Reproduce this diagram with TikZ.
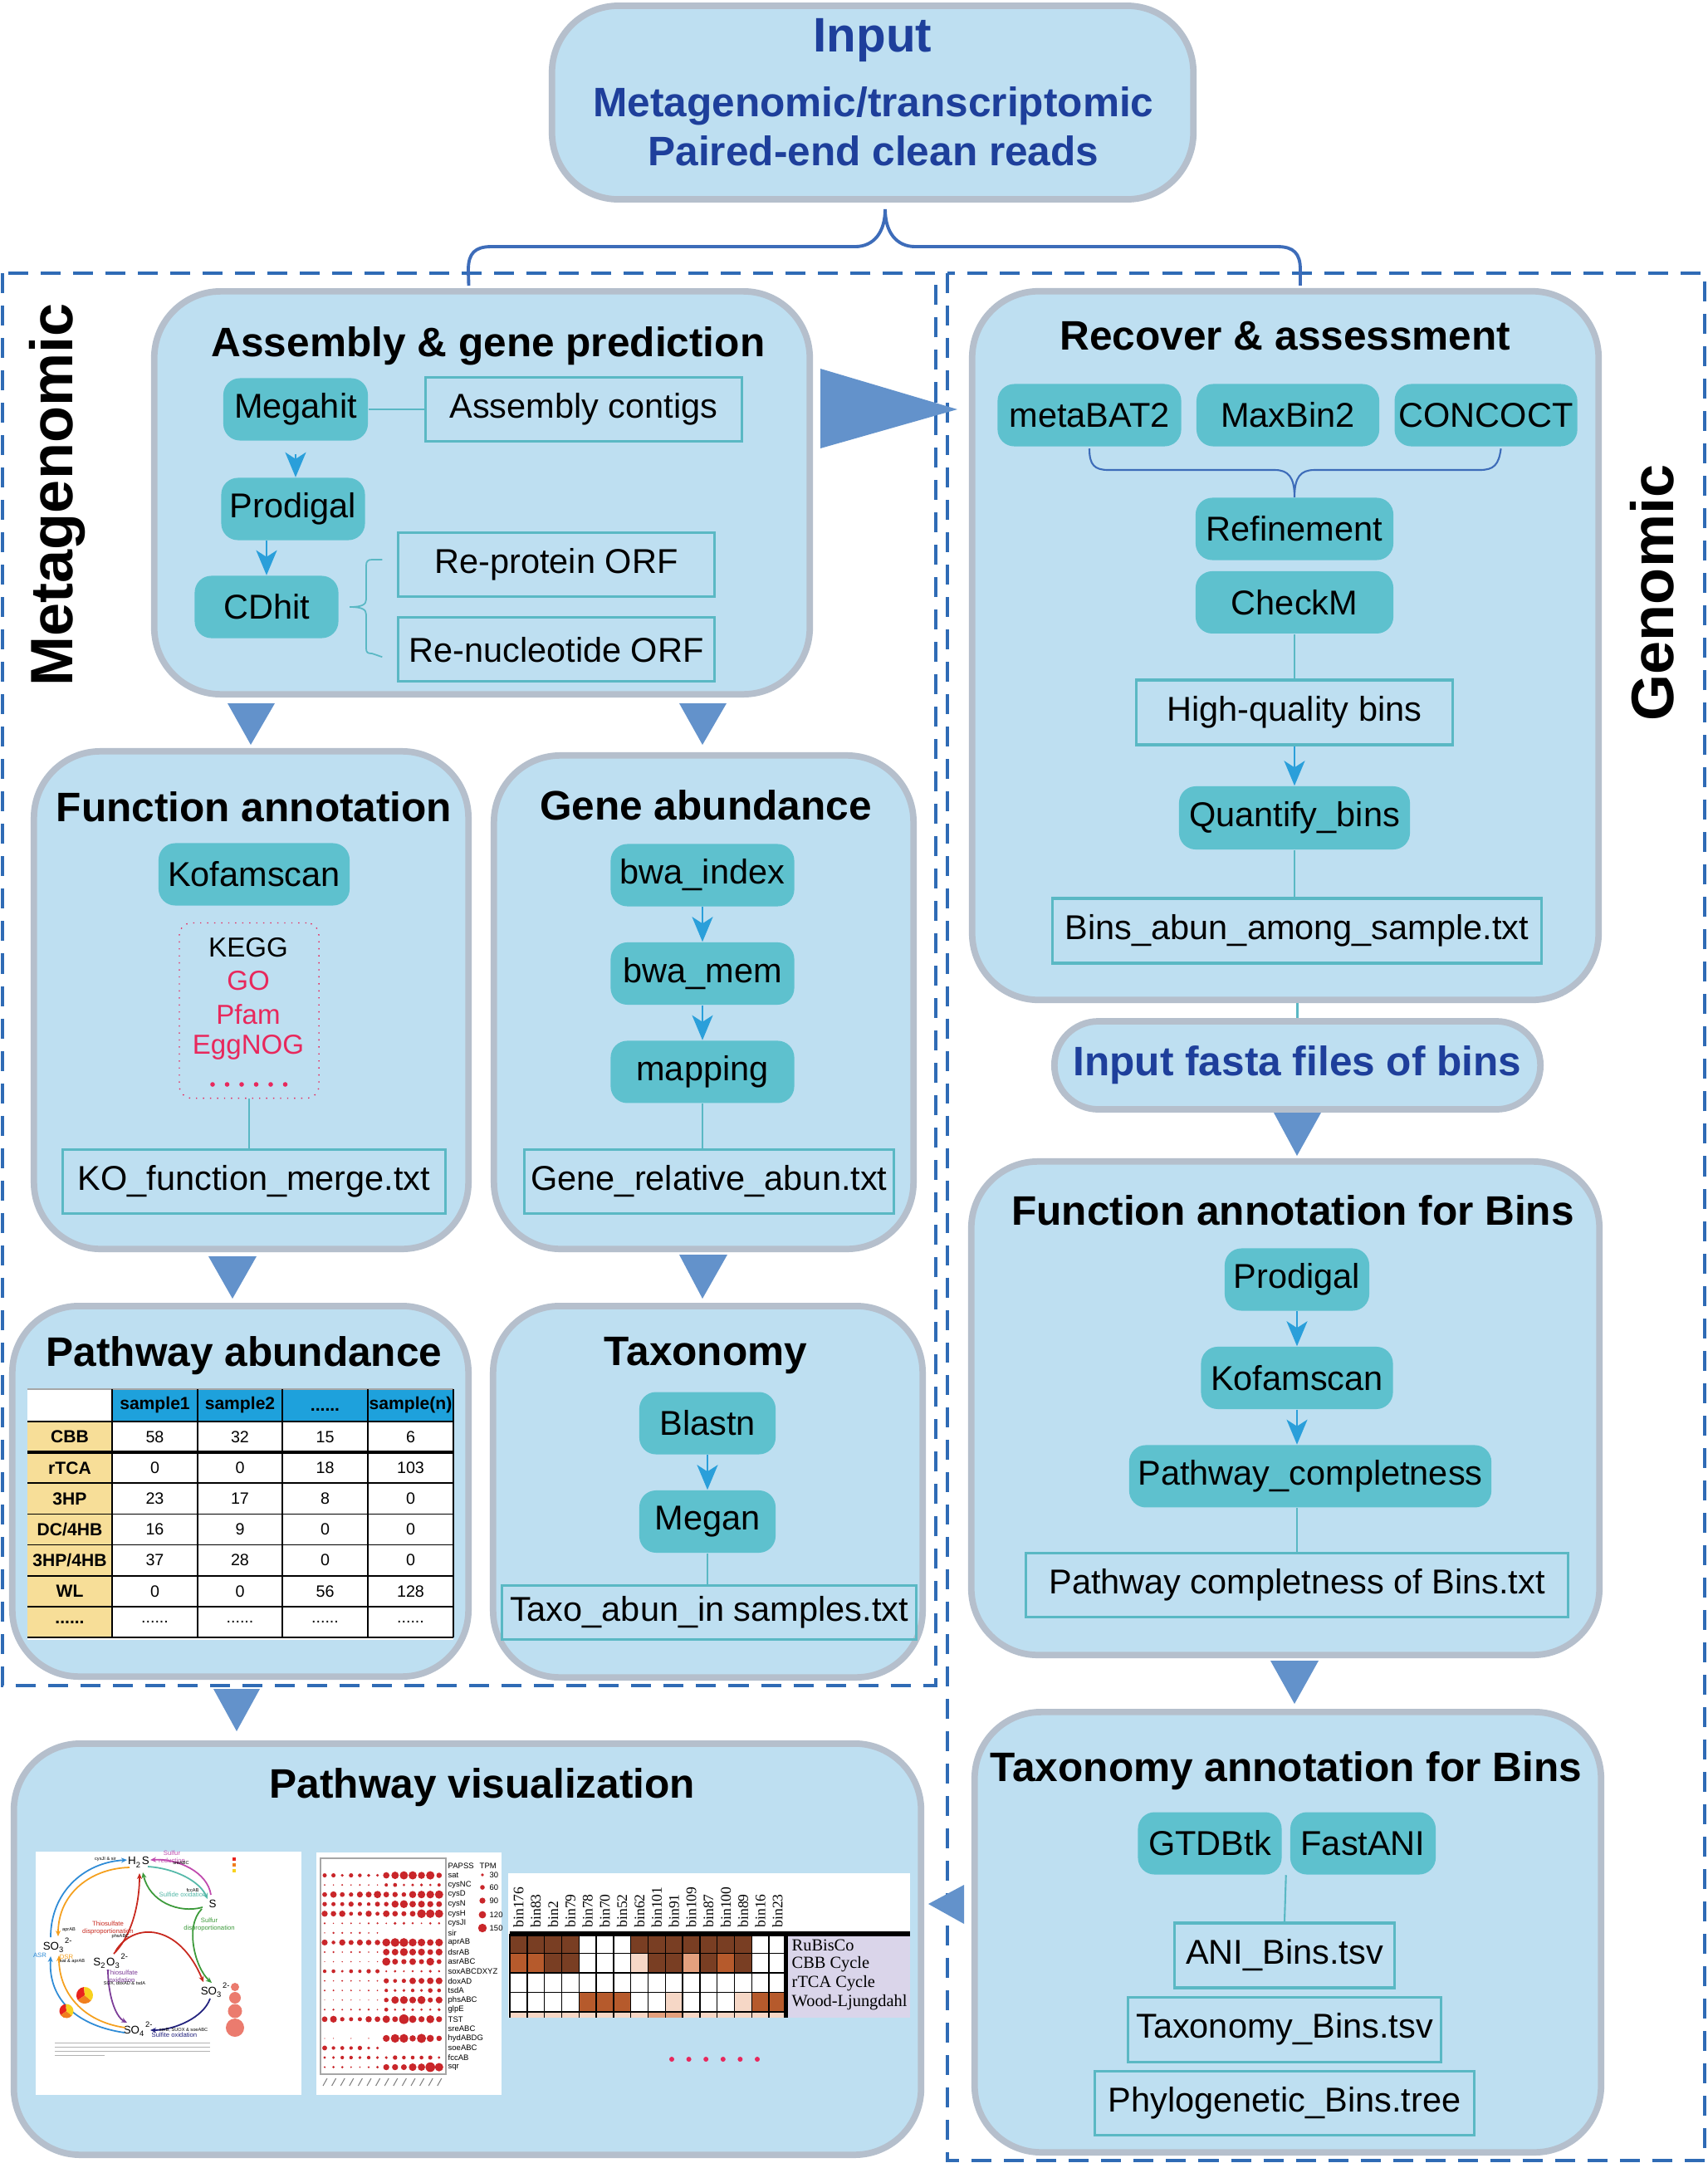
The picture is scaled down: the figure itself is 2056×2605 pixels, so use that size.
\documentclass[tikz,border=0pt]{standalone}
\usepackage{fontspec}
\setmainfont{Liberation Sans}
\newfontfamily\heatserif{Liberation Serif}
\usetikzlibrary{calc}
\usetikzlibrary{positioning}
\usetikzlibrary{arrows.meta}

\definecolor{panelfill}{HTML}{BEDFF1}
\definecolor{panelline}{HTML}{B5BFCC}
\definecolor{toolfill}{HTML}{5EC1CE}
\definecolor{fileline}{HTML}{5AB8C4}
\definecolor{flowblue}{HTML}{2A9FDA}
\definecolor{tricol}{HTML}{6392CB}
\definecolor{dashblue}{HTML}{2F6BB5}
\definecolor{braceblue}{HTML}{3D6CB9}
\definecolor{inkblue}{HTML}{1E3F9B}
\definecolor{dbred}{HTML}{E8285C}
\definecolor{headblue}{HTML}{1EA1DC}
\definecolor{rowgold}{HTML}{F7DE98}
\definecolor{dotred}{HTML}{C9262A}
\definecolor{legsalmon}{HTML}{EB7B6E}
\definecolor{hmlabel}{HTML}{DAD5EA}
\definecolor{hm0}{HTML}{FFFFFF}
\definecolor{hm1}{HTML}{F6D7C6}
\definecolor{hm2}{HTML}{E3A07E}
\definecolor{hm3}{HTML}{B65A2C}
\definecolor{hm4}{HTML}{793E23}
\definecolor{cycblue}{HTML}{2E8BD6}
\definecolor{cycorange}{HTML}{F5A01E}
\definecolor{cycteal}{HTML}{55B9A9}
\definecolor{cycpink}{HTML}{C04AAE}
\definecolor{cycgreen}{HTML}{3C9A3A}
\definecolor{cycred}{HTML}{C8281E}
\definecolor{cycpurple}{HTML}{7C3C98}
\definecolor{cycnavy}{HTML}{23237E}
\definecolor{piered}{HTML}{E8231E}
\definecolor{pieorange}{HTML}{F07F1E}
\definecolor{pieyellow}{HTML}{F8D21E}

\newcommand\tabdots{......}

\tikzset{every node/.style={align=center},
  panel/.style={draw=panelline, line width=2.2pt, fill=panelfill,
    rounded corners=0.8cm, inner sep=0pt},
  panel title/.style={font=\bfseries\fontsize{14.1}{17}\selectfont},
  side label/.style={font=\bfseries\fontsize{20.5}{24}\selectfont, rotate=90},
  tool/.style={fill=toolfill, rounded corners=0.2cm, inner sep=0pt,
    minimum height=0.75cm, font=\fontsize{11.8}{14}\selectfont},
  outfile/.style={draw=fileline, line width=0.9pt, inner sep=0pt,
    minimum height=0.77cm, font=\fontsize{11.8}{14}\selectfont},
  flow/.style={draw=flowblue, line width=0.7pt,
    -{Stealth[length=0.3cm, width=0.25cm, inset=0.08cm]}},
  linkline/.style={draw=fileline, line width=0.6pt},
  bigtri/.style={fill=tricol},
  regionbox/.style={draw=dashblue, line width=1.2pt, dash pattern=on 0.24cm off 0.15cm},
  dbtext/.style={font=\fontsize{9.4}{11}\selectfont, text=dbred},
  cellhead/.style={font=\bfseries\fontsize{6}{7}\selectfont},
  cellnum/.style={font=\fontsize{5.6}{7}\selectfont},
  chem/.style={font=\fontsize{3.8}{4}\selectfont, inner sep=0.5pt},
  proc/.style={font=\fontsize{2.2}{2.6}\selectfont, inner sep=0pt},
  gene note/.style={font=\fontsize{1.6}{2}\selectfont, inner sep=0pt},
  cyc/.style={line width=0.5pt, -{Stealth[length=0.07cm, width=0.06cm]}},
  genelab/.style={font=\fontsize{2.7}{3}\selectfont, anchor=west, inner sep=0pt},
  binlab/.style={font=\heatserif\fontsize{5}{6}\selectfont, rotate=90, anchor=west, inner sep=0pt},
  pathlab/.style={font=\heatserif\fontsize{5.8}{7}\selectfont, anchor=west, inner sep=0pt}}

\begin{document}
\begin{tikzpicture}[x=0.01cm, y=-0.01cm]
  \fill[white] (0,0) rectangle (2056,2605);
  \useasboundingbox (0,0) rectangle (2056,2605);

  % dashed regions
  \draw[regionbox] (3,329) rectangle (1127,2030);
  \draw[regionbox] (1141,329) rectangle (2053,2602);
  \node [side label] (metalabel) at (69,596) {Metagenomic};
  \node [side label] (genolabel) at (1990,714) {Genomic};

  % input
  \node [panel, minimum width=7.72cm, minimum height=2.33cm] (input) at (1051,123.5) {};
  \node [font=\bfseries\fontsize{16.6}{20}\selectfont, text=inkblue] (inputtitle) at (1051,48) {Input};
  \node [font=\bfseries\fontsize{14.1}{16.8}\selectfont, text=inkblue] (inputtext) at (1052,152) {Metagenomic/transcriptomic\\Paired-end clean reads};

  % panels
  \node [panel, minimum width=7.89cm, minimum height=4.85cm] (assembly) at (580.5,593.5) {};
  \node [panel, minimum width=7.54cm, minimum height=8.53cm] (recover) at (1548,777.5) {};
  \node [panel, minimum width=5.23cm, minimum height=5.99cm] (funcann) at (302.5,1204.5) {};
  \node [panel, minimum width=5.05cm, minimum height=5.94cm] (geneab) at (847.5,1207) {};
  \node [panel, minimum width=5.49cm, minimum height=4.46cm] (pathab) at (289.5,1796) {};
  \node [panel, minimum width=5.17cm, minimum height=4.47cm] (taxo) at (852.5,1796.5) {};
  \node [panel, minimum width=7.56cm, minimum height=5.94cm] (funcbins) at (1548,1696) {};
  \node [panel, minimum width=7.54cm, minimum height=5.30cm] (taxbins) at (1551,2327) {};
  \node [panel, minimum width=10.92cm, minimum height=4.95cm] (pathvis) at (563,2347.5) {};
  \node [panel, rounded corners=0.53cm, minimum width=5.85cm, minimum height=1.06cm,
    font=\bfseries\fontsize{14.1}{17}\selectfont, text=inkblue] (fasta) at (1562.5,1283) {Input fasta files of bins};

  % brace from input
  \draw[braceblue, line width=1.1pt] ($(assembly.north)+(-16,-3)$) -- (564,325)
    .. controls (564,305) and (572,297) .. (592,297) -- (1030,297)
    .. controls (1052,297) and (1066,280) .. (1066,252)
    .. controls (1066,280) and (1080,297) .. (1102,297) -- (1538,297)
    .. controls (1558,297) and (1566,305) .. (1566,325) -- ($(recover.north)+(18,-3)$);

  % big arrows between panels
  \fill[bigtri] (988,444) -- (1153,493) -- (988,540) -- cycle;
  \fill[bigtri] (274,847) -- (331,847) -- (302,897) -- cycle;
  \fill[bigtri] (818,847) -- (875,847) -- (846,897) -- cycle;
  \fill[bigtri] (251,1513) -- (309,1513) -- (280,1564) -- cycle;
  \fill[bigtri] (818,1511) -- (876,1511) -- (846,1564) -- cycle;
  \fill[bigtri] (257,2034) -- (313,2034) -- (285,2085) -- cycle;
  \fill[bigtri] (1534,1340) -- (1591,1340) -- (1562,1392) -- cycle;
  \fill[bigtri] (1530,2000) -- (1588,2000) -- (1559,2052) -- cycle;
  \fill[bigtri] (1161,2270) -- (1161,2317) -- (1118,2293) -- cycle;

  % assembly & gene prediction
  \node [panel title] (assemblytitle) at (588,417) {Assembly \& gene prediction};
  \node [tool, minimum width=1.74cm] (megahit) at (356,493) {Megahit};
  \node [outfile, minimum width=3.8cm] (contigs) at (703,493) {Assembly contigs};
  \node [tool, minimum width=1.73cm] (prodigal) at (353,613) {Prodigal};
  \node [tool, minimum width=1.73cm] (cdhit) at (321,731) {CDhit};
  \node [outfile, minimum width=3.8cm] (reprotein) at (670,680) {Re-protein ORF};
  \node [outfile, minimum width=3.8cm, below=0.22cm of reprotein] (renucleotide) {Re-nucleotide ORF};
  \draw[linkline] (megahit) -- (contigs);
  \draw[flow, shorten <=0.16cm] (megahit.south) -- (megahit.south |- prodigal.north);
  \draw[flow] (cdhit.north |- prodigal.south) -- (cdhit.north);
  \coordinate (cdtip) at ($(cdhit.east)+(13,0)$);
  \draw[linkline, line width=0.5pt] ($(reprotein.west)+(-18,-6)$) -- (448,674)
    .. controls (443,674) and (441,676) .. (441,681) -- (441,722)
    .. controls (441,728) and (436,731) .. (cdtip)
    .. controls (436,731) and (441,734) .. (441,740) -- (441,781)
    .. controls (441,786) and (443,787) .. (448,787) -- ($(renucleotide.west)+(-18,9)$);

  % recover & assessment
  \node [panel title] (recovertitle) at (1548,405) {Recover \& assessment};
  \node [tool, minimum width=2.21cm] (metabat) at (1312,500) {metaBAT2};
  \node [tool, minimum width=2.2cm, right=0.17cm of metabat] (maxbin) {MaxBin2};
  \node [tool, minimum width=2.2cm, right=0.17cm of maxbin] (concoct) {CONCOCT};
  \node [tool, minimum width=2.38cm] (refinement) at (1559,637) {Refinement};
  \node [tool, minimum width=2.38cm, below=0.12cm of refinement] (checkm) {CheckM};
  \node [outfile, minimum width=3.81cm, minimum height=0.78cm] (hqbins) at (1559,858) {High-quality bins};
  \node [tool, minimum width=2.78cm, minimum height=0.76cm] (quantify) at (1559,985) {Quantify\_bins};
  \node [outfile, minimum width=5.89cm, minimum height=0.78cm] (binsabun) at (1562,1121) {Bins\_abun\_among\_sample.txt};
  \draw[braceblue, line width=0.6pt] ($(metabat.south)+(0,2)$)
    .. controls (1312,560) and (1318,566) .. (1335,566) -- (1535,566)
    .. controls (1552,566) and (1559,575) .. (refinement.north)
    .. controls (1559,575) and (1566,566) .. (1583,566) -- (1782,566)
    .. controls (1799,566) and (1805,560) .. ($(concoct.south)+(18,2)$);
  \draw[linkline] (checkm) -- (hqbins);
  \draw[flow] (hqbins) -- (quantify);
  \draw[linkline] (quantify.south) -- (quantify.south |- binsabun.north);
  \draw[linkline] (fasta.north |- recover.south) -- (fasta.north);

  % function annotation
  \node [panel title] (functitle) at (306,972) {Function annotation};
  \node [tool, minimum width=2.3cm] (kofam) at (306,1053) {Kofamscan};
  \node [draw=dbred, dotted, line width=0.4pt, rounded corners=0.15cm,
    minimum width=1.68cm, minimum height=2.11cm] (dbbox) at (300,1217) {};
  \node [dbtext, text=black] (kegg) at (299,1141) {KEGG};
  \node [dbtext] (go) at (299,1181) {GO};
  \node [dbtext] (pfam) at (299,1222) {Pfam};
  \node [dbtext] (eggnog) at (299,1261) {EggNOG};
  \foreach \k in {0,...,5}
    \fill[dbred] (256+\k*17.5,1306) circle[radius=0.028cm];
  \node [outfile, minimum width=4.6cm] (komerge) at (306,1423) {KO\_function\_merge.txt};
  \draw[linkline] (dbbox.south) -- (dbbox.south |- komerge.north);

  % gene abundance
  \node [panel title] (genetitle) at (850,970) {Gene abundance};
  \node [tool, minimum width=2.21cm] (bwaindex) at (846,1054) {bwa\_index};
  \node [tool, minimum width=2.21cm, below=0.42cm of bwaindex] (bwamem) {bwa\_mem};
  \node [tool, minimum width=2.21cm, below=0.42cm of bwamem] (mapping) {mapping};
  \node [outfile, minimum width=4.44cm] (generel) at (854,1423) {Gene\_relative\_abun.txt};
  \draw[flow] (bwaindex) -- (bwamem);
  \draw[flow] (bwamem) -- (mapping);
  \draw[linkline] (mapping.south) -- (mapping.south |- generel.north);

  % taxonomy
  \node [panel title] (taxotitle) at (850,1633) {Taxonomy};
  \node [tool, minimum width=1.64cm] (blastn) at (852,1714) {Blastn};
  \node [tool, minimum width=1.64cm, below=0.42cm of blastn] (megan) {Megan};
  \node [outfile, minimum width=4.98cm, minimum height=0.65cm] (taxoabun) at (854,1942) {Taxo\_abun\_in samples.txt};
  \draw[flow] (blastn) -- (megan);
  \draw[linkline] (megan.south) -- (megan.south |- taxoabun.north);

  % pathway abundance table
  \node [panel title] (pathabtitle) at (294,1633) {Pathway abundance};
  \fill[white] (33,1673) rectangle (546,1975);
  \fill[headblue] (135,1673) rectangle (546,1712);
  \fill[rowgold] (33,1712) rectangle (135,1972);
  \draw[gray!70, line width=0.5pt] (33,1673) -- (546,1673);
  \foreach \k in {0,...,7}
    \draw[black, line width=0.5pt] (33,1712+\k*37.14) -- (546,1712+\k*37.14);
  \draw[black, line width=1pt] (33,1749.1) -- (546,1749.1);
  \foreach \cx in {135,238,340,443,546}
    \draw[black, line width=0.5pt] (\cx,1673) -- (\cx,1972);
  \foreach \hd/\hx [count=\h] in {sample1/186.5, sample2/289, sample(n)/494.5}
    \node [cellhead] (head\h) at (\hx,1692) {\hd};
  \node [cellhead] (headdots) at (391.5,1698) {\tabdots};
  \foreach \lab/\va/\vb/\vc/\vd [count=\i from 0] in {CBB/58/32/15/6, rTCA/0/0/18/103,
      3HP/23/17/8/0, {DC/4HB}/16/9/0/0, {3HP/4HB}/37/28/0/0, WL/0/0/56/128,
      \tabdots/\tabdots/\tabdots/\tabdots/\tabdots} {
    \pgfmathsetmacro\yy{1730.6+\i*37.14}
    \node [cellhead] (rowlab\i) at (84,\yy) {\lab};
    \node [cellnum] (va\i) at (186.5,\yy) {\va};
    \node [cellnum] (vb\i) at (289,\yy) {\vb};
    \node [cellnum] (vc\i) at (391.5,\yy) {\vc};
    \node [cellnum] (vd\i) at (494.5,\yy) {\vd};
  }

  % function annotation for bins
  \node [panel title] (funcbinstitle) at (1557,1458) {Function annotation for Bins};
  \node [tool, minimum width=1.74cm] (prodigalbins) at (1562,1541) {Prodigal};
  \node [tool, minimum width=2.31cm, below=0.42cm of prodigalbins] (kofambins) {Kofamscan};
  \node [tool, minimum width=4.36cm, below=0.42cm of kofambins, xshift=0.16cm] (pathcomp) {Pathway\_completness};
  \node [outfile, minimum width=6.53cm] (pathcompfile) at (1562,1909) {Pathway completness of Bins.txt};
  \draw[flow] (prodigalbins) -- (kofambins);
  \draw[flow] (kofambins.south) -- (kofambins.south |- pathcomp.north);
  \draw[linkline] (pathcompfile.north |- pathcomp.south) -- (pathcompfile.north);

  % taxonomy annotation for bins
  \node [panel title] (taxbinstitle) at (1549,2133) {Taxonomy annotation for Bins};
  \node [tool, minimum width=1.73cm] (gtdbtk) at (1457,2220) {GTDBtk};
  \node [tool, minimum width=1.75cm, right=0.09cm of gtdbtk] (fastani) {FastANI};
  \node [outfile, minimum width=2.65cm, minimum height=0.78cm] (anibins) at (1547,2355) {ANI\_Bins.tsv};
  \node [outfile, minimum width=3.77cm, minimum height=0.78cm, below=0.08cm of anibins] (taxbinstsv) {Taxonomy\_Bins.tsv};
  \node [outfile, minimum width=4.57cm, minimum height=0.77cm, below=0.08cm of taxbinstsv] (phylobins) {Phylogenetic\_Bins.tree};
  \draw[linkline] ($(gtdbtk.south east)!0.5!(fastani.south west)$) -- (anibins.north);

  % pathway visualization
  \node [panel title] (pathvistitle) at (581,2153) {Pathway visualization};

  % sulfur cycle figure
  \fill[white] (43,2230) rectangle (363,2523);
  \node [chem] (hs) at (167,2243) {H\textsubscript{2}S};
  \node [chem] (sz) at (256,2293) {S};
  \node [chem] (sol) at (70,2343) {SO\textsubscript{3}\textsuperscript{2-}};
  \node [chem] (sto) at (134,2362) {S\textsubscript{2}O\textsubscript{3}\textsuperscript{2-}};
  \node [chem] (sor) at (260,2397) {SO\textsubscript{3}\textsuperscript{2-}};
  \node [chem] (sof) at (167,2444) {SO\textsubscript{4}\textsuperscript{2-}};
  \draw[cyc, cycblue] (150,2448) .. controls (95,2440) and (58,2410) .. (61,2356);
  \draw[cyc, cycblue] (61,2333) .. controls (61,2280) and (100,2243) .. (153,2240);
  \draw[cyc, cycorange] (156,2249) .. controls (110,2250) and (70,2280) .. (70,2332);
  \draw[cyc, cycorange, {Stealth[length=0.07cm, width=0.06cm]}-] (71,2355) .. controls (71,2400) and (100,2435) .. (151,2442);
  \draw[cyc, cycteal] (178,2248) .. controls (210,2250) and (240,2265) .. (250,2287);
  \draw[cyc, cycpink] (254,2282) .. controls (250,2255) and (215,2238) .. (181,2240);
  \draw[cyc, cycgreen] (244,2297) .. controls (215,2305) and (180,2290) .. (172,2255);
  \draw[cyc, cycgreen] (243,2299) .. controls (222,2320) and (235,2370) .. (255,2388);
  \draw[cyc, cycred] (137,2353) .. controls (160,2330) and (168,2290) .. (168,2256);
  \draw[cyc, cycred] (139,2350) .. controls (160,2315) and (215,2315) .. (245,2387);
  \draw[cyc, cycpurple] (130,2372) .. controls (130,2400) and (138,2428) .. (153,2436);
  \draw[cyc, cycnavy] (253,2407) .. controls (245,2430) and (210,2445) .. (181,2445);
  \node [proc, text=cycpink] (plab1) at (207,2236) {Sulfur\\reduction};
  \node [proc, text=cycteal] (plab2) at (220,2282) {Sulfide oxidation};
  \node [proc, text=cycred] (plab3) at (130,2322) {Thiosulfate\\disproportionation};
  \node [proc, text=cycgreen] (plab4) at (252,2318) {Sulfur\\disproportionation};
  \node [proc, text=cycpurple] (plab5) at (147,2380) {Thiosulfate\\oxidation};
  \node [proc, text=cycnavy] (plab6) at (210,2451) {Sulfite oxidation};
  \node [proc, text=cycblue] (plab7) at (48,2355) {ASR};
  \node [proc, text=cycorange] (plab8) at (80,2357) {DSR};
  \node [gene note] (gn1) at (127,2239) {cysJI \& sir};
  \node [gene note] (gn2) at (83,2324) {aprAB};
  \node [gene note] (gn3) at (87,2362) {sat \& aprAB};
  \node [gene note] (gn4) at (145,2332) {phsABC};
  \node [gene note] (gn5) at (150,2389) {SOX, doxAD \& tsdA};
  \node [gene note] (gn6) at (221,2445) {sorB, SUOX \& soeABC};
  \node [gene note] (gn7) at (218,2244) {sreABC};
  \node [gene note] (gn8) at (232,2276) {fccAB};
  \foreach \cx/\cy/\rr in {102/2403/0.1, 80/2422/0.085} {
    \fill[piered] (\cx,\cy) -- +(95:\rr cm) arc[start angle=95, end angle=215, radius=\rr cm] -- cycle;
    \fill[pieorange] (\cx,\cy) -- +(215:\rr cm) arc[start angle=215, end angle=320, radius=\rr cm] -- cycle;
    \fill[pieyellow] (\cx,\cy) -- +(320:\rr cm) arc[start angle=320, end angle=455, radius=\rr cm] -- cycle;
  }
  \foreach \cy/\cc in {2237/piered, 2244/pieorange, 2251/pieyellow}
    \fill[\cc] (280,\cy) rectangle ++(4,4);
  \foreach \cy/\rr in {2393/0.05, 2406/0.07, 2422/0.085, 2442/0.11}
    \fill[legsalmon] (283,\cy) circle[radius=\rr cm];
  \foreach \k/\len in {0/187, 1/187, 2/187, 3/60}
    \draw[gray!60, line width=0.3pt] (66,2460+\k*5) -- ++(\len,0);

  % dot plot figure
  \fill[white] (381,2231) rectangle (604,2523);
  \draw[gray!70, line width=0.4pt] (386,2238) rectangle (537,2498);
  \node [genelab] (gene0) at (539,2247) {PAPSS};
  \pgfmathsetseed{4}
  \foreach \gl/\lv/\rv [count=\gi] in {sat/2.8/5.2, cysNC/1.3/2.6, cysD/4.5/5.0,
      cysN/3.2/5.0, cysH/4.0/5.4, cysJI/1.3/1.8, sir/1.4/0, aprAB/4.0/5.6,
      dsrAB/1.5/5.4, asrABC/0.9/5.0, soxABCDXYZ/3.0/2.0, doxAD/1.2/4.2,
      tsdA/1.3/3.0, phsABC/0.9/5.0, glpE/1.4/2.4, TST/4.3/5.8, sreABC/0/0,
      hydABDG/0.7/5.8, soeABC/3.0/0.5, fccAB/2.6/3.0, sqr/1.6/6.0} {
    \pgfmathsetmacro\yy{2247+\gi*11.55}
    \node [genelab] (gene\gi) at (539,\yy) {\gl};
    \foreach \j in {0,...,13} {
      \pgfmathsetmacro\lev{\j<7 ? \lv : \rv}
      \pgfmathsetmacro\rr{\lev*(0.55+0.45*rnd)}
      \ifdim\rr pt>0.5pt \fill[dotred] (391+\j*10.6,\yy) circle[radius=\rr*0.01cm]; \fi
    }
  }
  \node [genelab] (tpm) at (577,2247) {TPM};
  \foreach \cy/\rr/\tl in {2258/1.8/30, 2273/2.8/60, 2289/3.6/90, 2306/4.4/120, 2322/5.2/150} {
    \fill[dotred] (581,\cy) circle[radius=\rr*0.01cm];
    \node [genelab] (tpm\tl) at (589,\cy) {\tl};
  }
  \foreach \j in {0,...,13}
    \draw[gray, line width=0.3pt] (389+\j*10.6,2512) -- ++(5,-9);

  % heatmap figure
  \fill[white] (612,2256) rectangle (1096,2430);
  \foreach \bn [count=\bi from 0] in {bin176, bin83, bin2, bin79, bin78, bin70, bin52,
      bin62, bin101, bin91, bin109, bin87, bin100, bin89, bin16, bin23}
    \node [binlab] (bl\bi) at (624.4+\bi*20.8,2322) {\bn};
  \foreach \cells [count=\ri from 0] in {{4,4,4,4,0,0,0,4,4,4,4,4,4,4,0,0},
      {3,3,4,4,0,0,0,1,4,4,2,4,3,4,0,0}, {0,0,0,0,0,0,0,0,0,0,0,0,0,0,0,0},
      {0,0,0,0,3,3,3,0,0,1,0,0,0,1,3,3}}
    \foreach \v [count=\ci from 0] in \cells
      \fill[hm\v] (614+\ci*20.8,2329+\ri*23.5) rectangle ++(20.8,23.5);
  \foreach \v [count=\ci from 0] in {1,1,1,1,1,1,1,1,2,2,1,1,1,1,1,1}
    \fill[hm\v] (614+\ci*20.8,2423) rectangle ++(20.8,7);
  \foreach \ci in {0,...,16}
    \draw[black, line width=0.4pt] (614+\ci*20.8,2329) -- (614+\ci*20.8,2430);
  \foreach \ri in {1,...,4}
    \draw[black, line width=0.4pt] (614,2329+\ri*23.5) -- (946.8,2329+\ri*23.5);
  \fill[hmlabel] (947,2329) rectangle (1096,2430);
  \draw[black, line width=1.4pt] (946.8,2329) -- (946.8,2430);
  \draw[black, line width=1.6pt] (614,2329) -- (1096,2329);
  \node [pathlab] (hmrub) at (953,2343) {RuBisCo};
  \node [pathlab] (hmcbb) at (953,2366) {CBB Cycle};
  \node [pathlab] (hmrtca) at (953,2389) {rTCA Cycle};
  \node [pathlab] (hmwl) at (953,2412) {Wood-Ljungdahl};
  \foreach \k in {0,...,5}
    \fill[dbred] (809+\k*20.6,2480) circle[radius=0.03cm];
\end{tikzpicture}
\end{document}
